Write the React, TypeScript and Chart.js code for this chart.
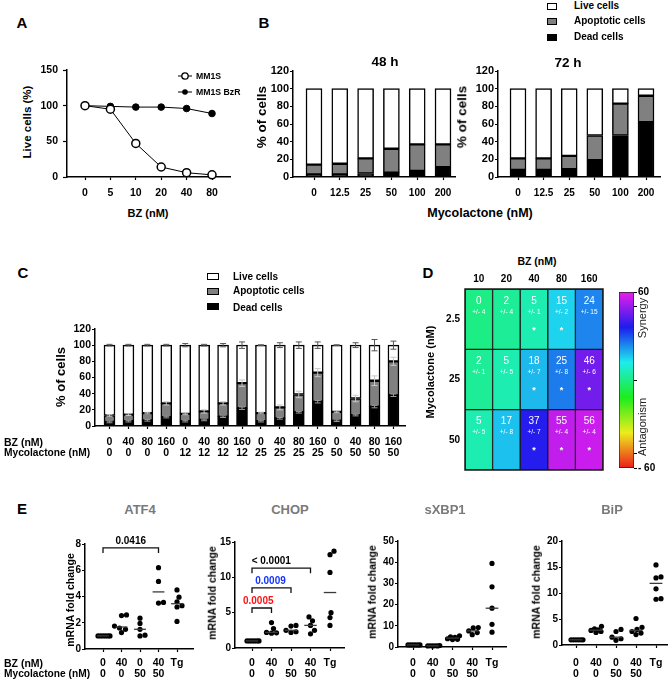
import React, { useEffect, useRef } from 'react';
import { Chart, registerables } from 'chart.js';
Chart.register(...registerables);

const FONT = '"Liberation Sans", Arial, Helvetica, sans-serif';
Chart.defaults.font.family = FONT;

// ---------------- DATA ----------------
// Panel A
const aDoses = ['0', '5', '10', '20', '40', '80'];
const aMM1S = [100, 95, 47, 14, 6, 3];
const aMM1SBzR = [100, 99, 98, 98, 96, 89];

// Panel B
const bDoses = ['0', '12.5', '25', '50', '100', '200'];
const b48Dead = [3, 3, 4, 5, 7, 11];
const b48Apop = [11, 12, 17, 27, 30, 26];
const b48Live = [86, 85, 79, 68, 63, 63];
const b72Dead = [8, 8, 9, 19, 47, 62];
const b72Apop = [13, 13, 15, 28, 36, 30];
const b72Live = [79, 79, 76, 53, 17, 8];

// Panel C
const cBZ = ['0', '40', '80', '160', '0', '40', '80', '160', '0', '40', '80', '160', '0', '40', '80', '160'];
const cMyco = ['0', '0', '0', '0', '12', '12', '12', '12', '25', '25', '25', '25', '50', '50', '50', '50'];
const cDead = [5, 6, 7, 11, 6, 7.5, 11.5, 22, 6, 9.5, 17, 30, 6.5, 13.5, 24, 38];
const cApop = [8, 8, 9, 17, 9, 10.5, 16.5, 31, 10, 13.5, 22, 36, 11, 20.5, 32, 42];
const cLive = [87, 86, 84, 72, 85, 82, 72, 47, 84, 77, 61, 34, 82.5, 66, 44, 20];
const cDeadErr = [1, 1, 1, 1, 1, 1, 1, 1.5, 1, 1, 1, 1.5, 1, 1, 1.5, 1.5];
const cApopErr = [1, 1, 1, 2, 1, 2, 2, 4, 1, 3, 4, 5, 1, 4, 6, 5];
const cLiveErr = [1, 1, 1, 1, 2, 1, 2, 4, 0.5, 3, 4, 4, 0.5, 3, 7, 5];

// Panel D
const dBZ = ['10', '20', '40', '80', '160'];
const dMycoRows = ['2.5', '25', '50'];
const dSynergy = [
  [0, 2, 5, 15, 24],
  [2, 5, 18, 25, 46],
  [5, 17, 37, 55, 56],
];
const dSynergySD = [
  [4, 4, 1, 2, 15],
  [1, 5, 7, 8, 6],
  [5, 8, 7, 4, 4],
];
const dSynergySig = [
  [false, false, true, true, false],
  [false, false, true, true, true],
  [false, false, true, true, true],
];
const cbRange = [-60, 60];
const cbTicks = [-60, -50, 0, 50, 60];

// Panel E
const eBZ = ['0', '40', '0', '40', 'Tg'];
const eMyco = ['0', '0', '50', '50', ''];
const eTitles = ['ATF4', 'CHOP', 'sXBP1', 'BiP'];
const atf4 = [
  [1, 1, 1, 1, 1, 1],
  [1.25, 1.5, 1.6, 1.75, 2.55, 2.6],
  [1.0, 1.05, 1.5, 1.95, 2.35],
  [3.5, 3.55, 5.15, 6.2],
  [2.1, 3.2, 3.3, 3.6, 3.95, 4.5],
];
const chop = [
  [1, 1, 1, 1, 1, 1],
  [2.1, 2.15, 2.2, 2.75, 3.6],
  [2.2, 2.3, 2.5, 3.1, 3.2],
  [2.0, 2.5, 3.2, 3.85, 4.4],
  [3.2, 4.3, 5.0, 10.7, 13.2, 13.7],
];
const sxbp1 = [
  [1, 1, 1, 1, 1, 1],
  [0.5, 0.5, 0.5, 0.6, 0.6, 0.7],
  [3.5, 3.6, 3.9, 4.5, 4.8, 5.3],
  [5.8, 6.8, 7.6, 9.0, 9.2],
  [7.0, 10.7, 18.3, 28.4, 39.4],
];
const bip = [
  [1, 1, 1, 1, 1, 1],
  [2.4, 2.6, 2.8, 2.9, 3.1, 3.6],
  [0.9, 1.2, 1.5, 2.6, 3.0],
  [2.0, 2.3, 2.6, 3.0, 3.4, 5.1],
  [8.8, 8.9, 10.8, 12.9, 13.1, 15.4],
];
const eYMax = [8, 15, 50, 20];
const eYStep = [2, 5, 10, 5];
const atf4Pairs = [[0, 3]];
const atf4PLabels = ['0.0416'];
const chopPairs = [[0, 1], [0, 2], [0, 3]];
const chopPLabels = ['0.0005', '0.0009', '< 0.0001'];

// ---------------- LAYOUT / STYLE ----------------
const atf4BracketY = [7.7];
const chopBracketY = [5.66, 8.5, 11.3];
const atf4PColors = ['#000'];
const chopPColors = ['#ff1212', '#1233ff', '#000'];
const atf4PDx = [0];
const chopPDx = [-3.5, -1, -10];

const bold = (size: number, lh = 1.2): any => ({ family: FONT, size, weight: 'bold', lineHeight: lh });

const xRange = (pl: number, pr: number, firstPx: number, spacing: number) => {
  const min = -(firstPx - pl) / spacing;
  return { min, max: min + (pr - pl) / spacing };
};

function geo(pl: number, pt: number, pr: number, pb: number, yW: number, xH: number, padT = 16, padR = 8) {
  return { left: pl - yW, top: pt - padT, width: pr - pl + yW + padR, height: pb - pt + padT + xH };
}

const common = (padT: number, padR: number, padB = 0, padL = 0): any => ({
  responsive: false,
  maintainAspectRatio: false,
  animation: false,
  events: [],
  layout: { padding: { top: padT, right: padR, bottom: padB, left: padL } },
});
const basePlugins = { legend: { display: false }, tooltip: { enabled: false }, title: { display: false } };

function idxAxis(labels: any[], range: any, font: any, tl: number, pad: number, h: number, extra: any = {}) {
  return {
    type: 'linear',
    min: range.min,
    max: range.max,
    offset: false,
    border: { display: true, color: '#000', width: 1.5 },
    grid: { display: true, drawOnChartArea: false, drawTicks: true, tickLength: tl, tickWidth: 1.2, tickColor: '#000', color: '#000', offset: false },
    ticks: { font, color: '#000', padding: pad, autoSkip: false, maxRotation: 0, minRotation: 0, callback: (v: number) => labels[v] ?? '' },
    afterBuildTicks: (s: any) => {
      s.ticks = labels.map((_: any, i: number) => ({ value: i }));
    },
    afterFit: (s: any) => {
      s.height = h;
    },
    ...extra,
  };
}

function valAxis(min: number, max: number, step: number, font: any, tl: number, pad: number, w: number, extra: any = {}) {
  return {
    type: 'linear',
    min,
    max,
    border: { display: true, color: '#000', width: 1.5 },
    grid: { display: true, drawOnChartArea: false, drawTicks: true, tickLength: tl, tickWidth: 1.2, tickColor: '#000', color: '#000', offset: false },
    ticks: { font, color: '#000', padding: pad, stepSize: step, autoSkip: false },
    afterFit: (s: any) => {
      s.width = w;
    },
    ...extra,
  };
}

// ---------------- PLUGINS ----------------
const errorBarPlugin = {
  id: 'errbars',
  afterDatasetsDraw(chart: any, _a: any, opts: any) {
    if (!opts || !opts.errors) return;
    const { ctx } = chart;
    const yS = chart.scales.y;
    ctx.save();
    chart.data.datasets.forEach((_ds: any, di: number) => {
      const meta = chart.getDatasetMeta(di);
      meta.data.forEach((el: any, j: number) => {
        let cum = 0;
        for (let k = 0; k <= di; k++) cum += chart.data.datasets[k].data[j].y;
        const e = opts.errors[di][j];
        const yHi = yS.getPixelForValue(cum + e);
        const yLo = yS.getPixelForValue(cum - e);
        ctx.strokeStyle = opts.colors[di];
        ctx.lineWidth = 1;
        ctx.beginPath();
        ctx.moveTo(el.x, yLo);
        ctx.lineTo(el.x, yHi);
        ctx.moveTo(el.x - 3, yHi);
        ctx.lineTo(el.x + 3, yHi);
        ctx.moveTo(el.x - 3, yLo);
        ctx.lineTo(el.x + 3, yLo);
        ctx.stroke();
      });
    });
    ctx.restore();
  },
};

const cellTextPlugin = {
  id: 'cellText',
  afterDatasetsDraw(chart: any) {
    const { ctx } = chart;
    const n = dMycoRows.length;
    ctx.save();
    chart.data.datasets.forEach((_: any, di: number) => {
      const r = n - 1 - di;
      chart.getDatasetMeta(di).data.forEach((el: any, c: number) => {
        const top = Math.min(el.y, el.base);
        const h = Math.abs(el.base - el.y);
        ctx.fillStyle = '#fff';
        ctx.textAlign = 'center';
        ctx.textBaseline = 'middle';
        ctx.font = `10px ${FONT}`;
        ctx.fillText(String(dSynergy[r][c]), el.x, top + h * 0.2);
        ctx.font = `6.5px ${FONT}`;
        ctx.fillText(`+/- ${dSynergySD[r][c]}`, el.x, top + h * 0.38);
        if (dSynergySig[r][c]) {
          ctx.font = `bold 9px ${FONT}`;
          ctx.fillText('*', el.x, top + h * 0.68);
        }
      });
    });
    const a = chart.chartArea;
    ctx.strokeStyle = '#1a1a1a';
    ctx.lineWidth = 1.5;
    ctx.strokeRect(a.left, a.top, a.right - a.left, a.bottom - a.top);
    ctx.restore();
  },
};

const median = (vals: number[]) => {
  const s = [...vals].sort((a, b) => a - b);
  const m = Math.floor(s.length / 2);
  return s.length % 2 ? s[m] : (s[m - 1] + s[m]) / 2;
};

const medianPlugin = {
  id: 'medians',
  afterDatasetsDraw(chart: any, _a: any, opts: any) {
    if (!opts || !opts.groups) return;
    const { ctx } = chart;
    const { x, y } = chart.scales;
    ctx.save();
    ctx.strokeStyle = '#3a3a3a';
    ctx.lineWidth = 1.3;
    opts.groups.forEach((vals: number[], g: number) => {
      const py = y.getPixelForValue(median(vals));
      ctx.beginPath();
      ctx.moveTo(x.getPixelForValue(g - opts.half), py);
      ctx.lineTo(x.getPixelForValue(g + opts.half), py);
      ctx.stroke();
    });
    ctx.restore();
  },
};

const bracketPlugin = {
  id: 'brackets',
  afterDraw(chart: any, _a: any, opts: any) {
    if (!opts || !opts.items) return;
    const { ctx } = chart;
    const { x, y } = chart.scales;
    ctx.save();
    opts.items.forEach((it: any) => {
      const x1 = x.getPixelForValue(it.a);
      const x2 = x.getPixelForValue(it.b);
      const py = y.getPixelForValue(it.y);
      ctx.strokeStyle = '#111';
      ctx.lineWidth = 1.3;
      ctx.beginPath();
      ctx.moveTo(x1, py + 5);
      ctx.lineTo(x1, py);
      ctx.lineTo(x2, py);
      ctx.lineTo(x2, py + 5);
      ctx.stroke();
      ctx.fillStyle = it.color;
      ctx.font = `bold 10px ${FONT}`;
      ctx.textAlign = 'center';
      ctx.textBaseline = 'bottom';
      ctx.fillText(it.label, (x1 + x2) / 2 + it.dx, py - 1.5);
    });
    ctx.restore();
  },
};

// ---------------- COLORS ----------------
const synHue = (v: number) => ((v - cbRange[0]) / (cbRange[1] - cbRange[0])) * 300;
const synColor = (v: number) => `hsl(${synHue(v)}, 85%, 52%)`;

// ---------------- CONFIGS ----------------
const G_A = geo(67, 70, 230, 177, 30, 26);
function makeA(): any {
  const r = xRange(67, 230, 85, 25.4);
  return {
    type: 'line',
    data: {
      datasets: [
        { data: aMM1S.map((y, i) => ({ x: i, y })), borderColor: '#000', borderWidth: 1, pointRadius: 4, pointBackgroundColor: '#fff', pointBorderColor: '#000', pointBorderWidth: 1.5, clip: false },
        { data: aMM1SBzR.map((y, i) => ({ x: i, y })), borderColor: '#000', borderWidth: 1, pointRadius: 3.3, pointBackgroundColor: '#000', pointBorderColor: '#000', pointBorderWidth: 1, clip: false },
      ],
    },
    options: {
      ...common(16, 8),
      plugins: basePlugins,
      scales: {
        x: idxAxis(aDoses, r, bold(10.5), 3, 6.5, 26),
        y: valAxis(0, 150, 50, bold(10.5), 4, 5, 30),
      },
    },
  };
}

function makeStacked(dead: number[], apop: number[], live: number[], labels: any[], range: any, thick: number, xFont: any, xPad: number, xH: number, yFont: any, extraOpts: any = {}, plugins: any[] = []): any {
  const ds = (arr: number[], color: string) => ({
    data: arr.map((y, i) => ({ x: i, y })),
    backgroundColor: color,
    borderColor: '#000',
    borderWidth: 1.5,
    borderSkipped: false,
    barThickness: thick,
  });
  return {
    type: 'bar',
    data: { datasets: [ds(dead, '#000'), ds(apop, '#808080'), ds(live, '#fff')] },
    options: {
      ...common(16, 8),
      plugins: { ...basePlugins, ...extraOpts },
      scales: {
        x: idxAxis(labels, range, xFont, 3, xPad, xH, { stacked: true }),
        y: valAxis(0, 120, 20, yFont, 3, 1, 35, { stacked: true }),
      },
    },
    plugins,
  };
}

const G_B48 = geo(293, 71, 455, 177, 35, 26);
const G_B72 = geo(498, 71, 660, 177, 35, 26);
const makeB48 = () => makeStacked(b48Dead, b48Apop, b48Live, bDoses, xRange(293, 455, 314, 25.8), 16, bold(10), 7, 26, bold(11));
const makeB72 = () => makeStacked(b72Dead, b72Apop, b72Live, bDoses, xRange(498, 660, 518, 25.6), 16, bold(10), 7, 26, bold(11));

const G_C = geo(95, 329, 405, 426, 35, 40);
const makeC = () =>
  makeStacked(
    cDead,
    cApop,
    cLive,
    cBZ.map((b, i) => [b, cMyco[i]]),
    xRange(95, 405, 109.5, 18.93),
    11,
    bold(10.5, 1.05),
    7.5,
    40,
    bold(10.5),
    { errbars: { errors: [cDeadErr, cApopErr, cLiveErr], colors: ['#9a9a9a', '#c8c8c8', '#555'] } },
    [errorBarPlugin]
  );

const G_D = { left: 465 - 30, top: 289 - 20, width: 138 + 30 + 8, height: 20 + 181 + 12 };
function makeD(): any {
  const rowsBU = [...dMycoRows].reverse();
  return {
    type: 'bar',
    data: {
      labels: dBZ,
      datasets: rowsBU.map((row, i) => {
        const r = dMycoRows.length - 1 - i;
        return {
          label: row,
          data: dBZ.map(() => 1),
          backgroundColor: dSynergy[r].map(synColor),
          borderColor: '#1a1a1a',
          borderWidth: 1,
          borderSkipped: false,
          barPercentage: 1,
          categoryPercentage: 1,
        };
      }),
    },
    options: {
      ...common(0, 8, 12),
      plugins: basePlugins,
      scales: {
        x: {
          type: 'category',
          position: 'top',
          stacked: true,
          border: { display: false },
          grid: { display: false, drawTicks: false },
          ticks: { font: bold(10), color: '#000', padding: 4, maxRotation: 0, autoSkip: false },
          afterFit: (s: any) => {
            s.height = 20;
          },
        },
        y: {
          type: 'linear',
          stacked: true,
          min: 0,
          max: rowsBU.length,
          border: { display: false },
          grid: { display: false, drawTicks: false },
          ticks: { font: bold(10), color: '#000', padding: 5, autoSkip: false, callback: (v: number) => rowsBU[Math.floor(v)] ?? '' },
          afterBuildTicks: (s: any) => {
            s.ticks = rowsBU.map((_, i) => ({ value: i + 0.5 }));
          },
          afterFit: (s: any) => {
            s.width = 30;
          },
        },
      },
    },
    plugins: [cellTextPlugin],
  };
}

const G_CB = { left: 619, top: 282, width: 45, height: 196 };
function makeCB(): any {
  const grad = (ctx: any) => {
    const chart = ctx.chart;
    const a = chart.chartArea;
    if (!a) return '#0f0';
    const g = chart.ctx.createLinearGradient(0, a.bottom, 0, a.top);
    for (let i = 0; i <= 10; i++) g.addColorStop(i / 10, `hsl(${i * 30}, 85%, 52%)`);
    return g;
  };
  return {
    type: 'bar',
    data: {
      labels: [''],
      datasets: [{ data: [cbRange], backgroundColor: grad, borderColor: '#222', borderWidth: 1, borderSkipped: false, barPercentage: 1, categoryPercentage: 1 }],
    },
    options: {
      ...common(10, 0, 10),
      plugins: basePlugins,
      scales: {
        x: { display: false },
        y: {
          type: 'linear',
          position: 'right',
          min: cbRange[0],
          max: cbRange[1],
          border: { display: false },
          grid: { display: true, drawOnChartArea: false, drawTicks: true, tickLength: 3, tickColor: '#000', tickWidth: 1 },
          ticks: { font: bold(10), color: '#000', padding: 1, autoSkip: false, callback: (v: number) => (v === cbRange[1] ? String(v) : v === cbRange[0] ? `- ${-v}` : '') },
          afterBuildTicks: (s: any) => {
            s.ticks = cbTicks.map((v) => ({ value: v }));
          },
          afterFit: (s: any) => {
            s.width = 30;
          },
        },
      },
    },
  };
}

// Panel E
const ePlots = [
  { l: 85, t: 544, r: 193, b: 649, first: 103, sp: 18.5 },
  { l: 235, t: 542, r: 344, b: 648, first: 252, sp: 19.5 },
  { l: 398, t: 541, r: 506, b: 647, first: 413, sp: 19.75 },
  { l: 562, t: 541, r: 667, b: 645, first: 576, sp: 20 },
];
const eData = [atf4, chop, sxbp1, bip];
const eBrackets = [
  atf4Pairs.map((p, i) => ({ a: p[0], b: p[1], y: atf4BracketY[i], label: atf4PLabels[i], color: atf4PColors[i], dx: atf4PDx[i] })),
  chopPairs.map((p, i) => ({ a: p[0], b: p[1], y: chopBracketY[i], label: chopPLabels[i], color: chopPColors[i], dx: chopPDx[i] })),
  [],
  [],
];
const eLabels = eBZ.map((b, i) => (eMyco[i] ? [b, eMyco[i]] : b));

function swarm(groups: number[][], yPx: number, xPx: number) {
  const DIAM = 5;
  const out: any[] = [];
  groups.forEach((vals, g) => {
    const placed: { dx: number; py: number }[] = [];
    vals.forEach((v) => {
      const py = v * yPx;
      let chosen: number | null = null;
      let best = 0;
      let bestScore = -1;
      for (let k = 0; k <= 14 && chosen === null; k++) {
        const cands = k === 0 ? [0] : [k * 0.5, -k * 0.5];
        for (const dx of cands) {
          const minD = placed.reduce((m, p) => Math.min(m, Math.hypot(p.dx - dx, p.py - py)), Infinity);
          if (minD >= DIAM) {
            chosen = dx;
            break;
          }
          if (minD > bestScore + 1e-6) {
            bestScore = minD;
            best = dx;
          }
        }
      }
      const dx = chosen === null ? best : chosen;
      placed.push({ dx, py });
      out.push({ x: g + dx / xPx, y: v });
    });
  });
  return out;
}

function makeE(k: number): any {
  const p = ePlots[k];
  const r = xRange(p.l, p.r, p.first, p.sp);
  const pts = swarm(eData[k], (p.b - p.t) / eYMax[k], p.sp);
  return {
    type: 'scatter',
    data: { datasets: [{ data: pts, pointRadius: 2.6, pointBackgroundColor: '#000', pointBorderColor: '#000', pointBorderWidth: 0, clip: false }] },
    options: {
      ...common(16, 8),
      plugins: { ...basePlugins, medians: { groups: eData[k], half: 0.32 }, brackets: { items: eBrackets[k] } },
      scales: {
        x: idxAxis(eLabels, r, bold(10.5, 1.05), 3, 663 - p.b - 8.5, 40),
        y: valAxis(0, eYMax[k], eYStep[k], bold(10), 3, 1, 28),
      },
    },
    plugins: [medianPlugin, bracketPlugin],
  };
}
const eGeo = ePlots.map((p) => geo(p.l, p.t, p.r, p.b, 28, 40));

// ---------------- COMPONENTS ----------------
function ChartBox({ g, make }: { g: any; make: () => any }) {
  const ref = useRef<HTMLCanvasElement>(null);
  useEffect(() => {
    const chart = new Chart(ref.current as HTMLCanvasElement, make());
    return () => chart.destroy();
  }, []);
  return (
    <canvas
      ref={ref}
      width={g.width}
      height={g.height}
      style={{ position: 'absolute', left: g.left, top: g.top, width: g.width, height: g.height }}
    />
  );
}

function Txt({ x, y, s, size, weight = 'bold', color = '#000', rot = 0, anchor = 'center' }: any) {
  const tx = anchor === 'left' ? '0' : anchor === 'right' ? '-100%' : '-50%';
  return (
    <div
      style={{
        position: 'absolute',
        left: x,
        top: y,
        transform: `translate(${tx}, -50%) rotate(${rot}deg)`,
        fontFamily: FONT,
        fontWeight: weight,
        fontSize: size,
        color,
        whiteSpace: 'nowrap',
        lineHeight: 1,
      }}
    >
      {s}
    </div>
  );
}

function LBox({ x, y, w, h, fill }: any) {
  return (
    <div
      style={{ position: 'absolute', left: x, top: y, width: w, height: h, background: fill, border: '1.3px solid #000', boxSizing: 'border-box' }}
    />
  );
}

const legendNames = ['Live cells', 'Apoptotic cells', 'Dead cells'];
const legendFills = ['#fff', '#808080', '#000'];

export default function App() {
  return (
    <div style={{ position: 'absolute', left: 0, top: 0, width: 672, height: 683, background: '#fff', overflow: 'hidden' }}>
      {/* Panel letters */}
      <Txt x={22} y={22} s="A" size={15} />
      <Txt x={264} y={22} s="B" size={15} />
      <Txt x={23} y={272} s="C" size={15} />
      <Txt x={428} y={272} s="D" size={15} />
      <Txt x={22} y={508} s="E" size={15} />

      {/* Panel A */}
      <ChartBox g={G_A} make={makeA} />
      <Txt x={28} y={122} s="Live cells (%)" size={11.5} rot={-90} />
      <Txt x={148} y={213} s="BZ (nM)" size={11} />
      <svg style={{ position: 'absolute', left: 176, top: 68 }} width={20} height={32}>
        <line x1={2} y1={8} x2={16} y2={8} stroke="#000" strokeWidth={1} />
        <circle cx={9} cy={8} r={3.2} fill="#fff" stroke="#000" strokeWidth={1.3} />
        <line x1={2} y1={24} x2={16} y2={24} stroke="#000" strokeWidth={1} />
        <circle cx={9} cy={24} r={2.8} fill="#000" />
      </svg>
      <Txt x={196} y={76} s="MM1S" size={8.7} anchor="left" />
      <Txt x={196} y={92} s="MM1S BzR" size={8.7} anchor="left" />

      {/* Panel B */}
      <ChartBox g={G_B48} make={makeB48} />
      <ChartBox g={G_B72} make={makeB72} />
      <Txt x={385} y={62} s="48 h" size={13.5} />
      <Txt x={568} y={63} s="72 h" size={13.5} />
      <Txt x={262} y={117} s="% of cells" size={13.5} rot={-90} />
      <Txt x={462} y={117} s="% of cells" size={13.5} rot={-90} />
      <Txt x={480} y={213} s="Mycolactone (nM)" size={12.5} />
      {legendNames.map((n, i) => (
        <React.Fragment key={'bl' + i}>
          <LBox x={547} y={[3, 18, 34][i]} w={10} h={7} fill={legendFills[i]} />
          <Txt x={574} y={[6, 21, 37][i]} s={n} size={10} anchor="left" />
        </React.Fragment>
      ))}

      {/* Panel C */}
      <ChartBox g={G_C} make={makeC} />
      <Txt x={60} y={377} s="% of cells" size={13} rot={-90} />
      <Txt x={4} y={442} s="BZ (nM)" size={10.5} anchor="left" />
      <Txt x={4} y={453} s="Mycolactone (nM)" size={10.2} anchor="left" />
      {legendNames.map((n, i) => (
        <React.Fragment key={'cl' + i}>
          <LBox x={207} y={[273, 288, 303][i]} w={12} h={7} fill={legendFills[i]} />
          <Txt x={233} y={[277, 291, 308][i]} s={n} size={10} anchor="left" />
        </React.Fragment>
      ))}

      {/* Panel D */}
      <ChartBox g={G_D} make={makeD} />
      <ChartBox g={G_CB} make={makeCB} />
      <Txt x={537} y={261} s="BZ (nM)" size={10.5} />
      <Txt x={430} y={372} s="Mycolactone (nM)" size={11} rot={-90} />
      <Txt x={642} y={318} s="Synergy" size={11} weight="normal" color="#222" rot={-90} />
      <Txt x={642} y={427} s="Antagonism" size={11} weight="normal" color="#222" rot={-90} />

      {/* Panel E */}
      {eGeo.map((g, k) => (
        <ChartBox key={'e' + k} g={g} make={() => makeE(k)} />
      ))}
      {eTitles.map((t, k) => (
        <Txt key={'et' + k} x={[140, 290, 445, 612][k]} y={509} s={t} size={13} color="#7a7a7a" />
      ))}
      {[70, 212, 372, 536].map((x, k) => (
        <Txt key={'ey' + k} x={x} y={[600, 593, 592, 592][k]} s="mRNA fold change" size={10.5} rot={-90} />
      ))}
      <Txt x={4} y={663} s="BZ (nM)" size={10.5} anchor="left" />
      <Txt x={4} y={674} s="Mycolactone (nM)" size={10.2} anchor="left" />
    </div>
  );
}
